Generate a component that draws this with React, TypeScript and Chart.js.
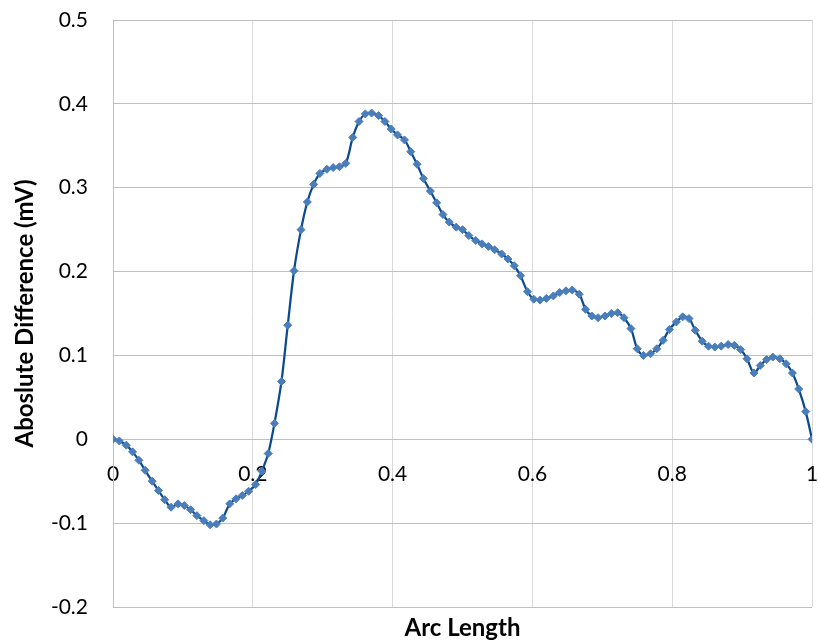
import React, { useEffect, useRef } from "react";
import { Chart, registerables } from "chart.js";

Chart.register(...registerables);

const arcLength: number[] = [
  0, 0.009, 0.019, 0.028, 0.037, 0.046, 0.056, 0.065, 0.074, 0.083,
  0.093, 0.102, 0.111, 0.12, 0.13, 0.139, 0.148, 0.157, 0.167, 0.176,
  0.185, 0.194, 0.204, 0.213, 0.222, 0.231, 0.241, 0.25, 0.259, 0.269,
  0.278, 0.287, 0.296, 0.306, 0.315, 0.324, 0.333, 0.343, 0.352, 0.361,
  0.37, 0.38, 0.389, 0.398, 0.407, 0.417, 0.426, 0.435, 0.444, 0.454,
  0.463, 0.472, 0.481, 0.491, 0.5, 0.509, 0.519, 0.528, 0.537, 0.546,
  0.556, 0.565, 0.574, 0.583, 0.593, 0.602, 0.611, 0.62, 0.63, 0.639,
  0.648, 0.657, 0.667, 0.676, 0.685, 0.694, 0.704, 0.713, 0.722, 0.731,
  0.741, 0.75, 0.759, 0.769, 0.778, 0.787, 0.796, 0.806, 0.815, 0.824,
  0.833, 0.843, 0.852, 0.861, 0.87, 0.88, 0.889, 0.898, 0.907, 0.917,
  0.926, 0.935, 0.944, 0.954, 0.963, 0.972, 0.981, 0.991, 1,
];

const absDifference: number[] = [
  0, -0.002, -0.007, -0.015, -0.025, -0.037, -0.05, -0.061, -0.072, -0.081,
  -0.077, -0.079, -0.084, -0.091, -0.097, -0.102, -0.101, -0.094, -0.077, -0.071,
  -0.067, -0.062, -0.054, -0.038, -0.017, 0.019, 0.069, 0.136, 0.201, 0.25,
  0.283, 0.304, 0.317, 0.322, 0.324, 0.325, 0.329, 0.36, 0.379, 0.388,
  0.389, 0.386, 0.379, 0.37, 0.363, 0.357, 0.343, 0.328, 0.311, 0.296,
  0.282, 0.268, 0.259, 0.253, 0.25, 0.243, 0.237, 0.233, 0.23, 0.226,
  0.221, 0.215, 0.207, 0.195, 0.176, 0.167, 0.166, 0.168, 0.171, 0.175,
  0.177, 0.178, 0.173, 0.155, 0.147, 0.145, 0.147, 0.15, 0.151, 0.145,
  0.132, 0.108, 0.1, 0.102, 0.108, 0.118, 0.131, 0.14, 0.146, 0.144,
  0.13, 0.117, 0.111, 0.11, 0.111, 0.113, 0.112, 0.107, 0.096, 0.079,
  0.088, 0.095, 0.098, 0.096, 0.09, 0.079, 0.06, 0.033, 0,
];

const xTitle = "Arc Length";
const yTitle = "Aboslute Difference (mV)";

const FONT = "Lato, 'Open Sans', 'DejaVu Sans', sans-serif";

export default function App() {
  const ref = useRef<HTMLCanvasElement | null>(null);

  useEffect(() => {
    if (!ref.current) return;
    const points = arcLength.map((x, i) => ({ x, y: absDifference[i] }));
    const chart = new Chart(ref.current, {
      type: "line",
      data: {
        datasets: [
          {
            data: points,
            xAxisID: "x",
            yAxisID: "y",
            borderColor: "#0B4A8F",
            borderWidth: 2.25,
            backgroundColor: "#4A7EBB",
            pointStyle: "rectRot",
            pointRadius: 4,
            pointBorderWidth: 1,
            pointBackgroundColor: "#4A7EBB",
            pointBorderColor: "#4A7EBB",
            tension: 0.33,
            fill: false,
          },
        ],
      },
      options: {
        responsive: false,
        animation: false,
        events: [],
        layout: { padding: { left: 0, right: 6, top: 20, bottom: 0 } },
        plugins: {
          legend: { display: false },
          tooltip: { enabled: false },
        },
        scales: {
          x: {
            type: "linear",
            position: { y: 0 } as any,
            min: 0,
            max: 1,
            ticks: {
              stepSize: 0.2,
              autoSkip: false,
              maxRotation: 0,
              padding: 22,
              color: "#000",
              font: { family: FONT, size: 21 },
              callback: (v: any) => {
                const n = Math.round(Number(v) * 10) / 10;
                return n === 0 ? "0" : n === 1 ? "1" : n.toFixed(1);
              },
            },
            grid: { color: "#D9D9D9", lineWidth: 1, drawTicks: false },
            border: { display: true, color: "#BFBFBF", width: 1 },
            afterFit: (s: any) => {
              s.paddingLeft = 0;
              s.paddingRight = 0;
              s.paddingTop = 0;
              s.paddingBottom = 0;
            },
          },
          xT: {
            type: "linear",
            axis: "x",
            position: "bottom",
            min: 0,
            max: 1,
            ticks: { display: false },
            grid: { display: false, drawTicks: false },
            border: { display: false },
            title: {
              display: true,
              text: xTitle,
              color: "#000",
              font: { family: FONT, size: 24, weight: "bold", lineHeight: 1.1 },
              padding: { top: 0, bottom: 0 },
            },
            afterFit: (s: any) => {
              s.height = 34;
              s.paddingLeft = 0;
              s.paddingRight = 0;
            },
          },
          y: {
            type: "linear",
            position: "left",
            min: -0.2,
            max: 0.5,
            ticks: {
              stepSize: 0.1,
              padding: 25,
              color: "#000",
              font: { family: FONT, size: 21 },
              callback: (v: any) => {
                const n = Math.round(Number(v) * 10) / 10;
                return n === 0 ? "0" : n.toFixed(1);
              },
            },
            grid: { color: "#BFBFBF", lineWidth: 1, drawTicks: false },
            border: { display: true, color: "#BFBFBF", width: 1 },
            title: {
              display: true,
              text: yTitle,
              color: "#000",
              font: { family: FONT, size: 24, weight: "bold" },
              padding: { top: 11, bottom: 0 },
            },
            afterFit: (s: any) => {
              s.width = 113;
              s.paddingTop = 0;
              s.paddingBottom = 0;
            },
          },
        },
      },
    });
    return () => chart.destroy();
  }, []);

  return (
    <div style={{ position: "absolute", left: 0, top: 0, width: 818, height: 641, background: "#fff" }}>
      <canvas ref={ref} width={818} height={641} style={{ display: "block" }} />
    </div>
  );
}
